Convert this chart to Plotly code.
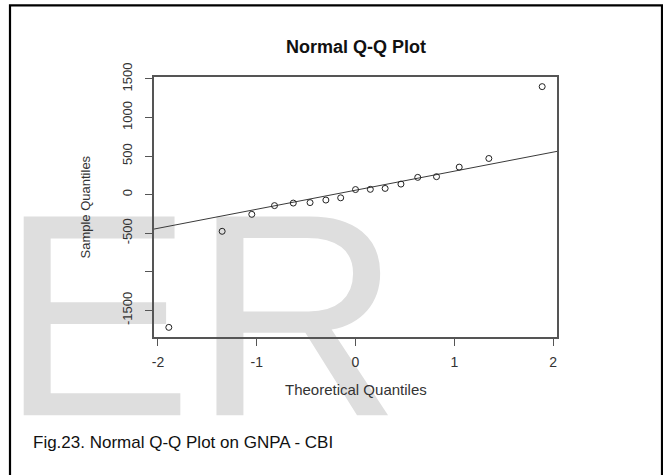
import numpy as np
import plotly.graph_objects as go

# ---- data ----
theoretical = [-1.89, -1.35, -1.05, -0.82, -0.63, -0.46, -0.30, -0.15, 0.0,
               0.15, 0.30, 0.46, 0.63, 0.82, 1.05, 1.35, 1.89]
sample = [-1720, -475, -255, -142, -109, -103, -70, -41, 66,
          69, 81, 137, 224, 233, 357, 469, 1400]
x_ticks = [-2, -1, 0, 1, 2]
y_ticks = [-1500, -1000, -500, 0, 500, 1000, 1500]
y_ticktext = ["-1500", "", "-500", "0", "500", "1000", "1500"]
title_text = "Normal Q-Q Plot"
x_title = "Theoretical Quantiles"
y_title = "Sample Quantiles"
caption = "Fig.23. Normal Q-Q Plot on GNPA - CBI"
watermark = "ER"

W, H = 663, 475
FONT = "Liberation Sans, Arial, sans-serif"

# qqline: through first and third quartiles (as R's qqline)
q_y = np.quantile(sample, [0.25, 0.75])
q_x = np.array([-0.6744898, 0.6744898])
slope = (q_y[1] - q_y[0]) / (q_x[1] - q_x[0])
intercept = q_y[0] - slope * q_x[0]
x_range = [-2.04, 2.04]
line_x = np.array(x_range)
line_y = intercept + slope * line_x

fig = go.Figure()

# watermark layer (full-page invisible axes, drawn beneath the data subplot)
fig.add_trace(go.Scatter(
    x=[0], y=[343], mode="text", text=[watermark], textposition="middle right",
    textfont=dict(family=FONT, size=289, color="#dedede"),
    xaxis="x", yaxis="y", hoverinfo="skip", showlegend=False, cliponaxis=False))

# qq line
fig.add_trace(go.Scatter(
    x=line_x, y=line_y, mode="lines", line=dict(color="#3a3a3a", width=1),
    xaxis="x2", yaxis="y2", hoverinfo="skip", showlegend=False, cliponaxis=True))

# points
fig.add_trace(go.Scatter(
    x=theoretical, y=sample, mode="markers",
    marker=dict(symbol="circle-open", size=6, color="#222", line=dict(width=1, color="#222")),
    xaxis="x2", yaxis="y2", showlegend=False, cliponaxis=False))

px_l, px_r, px_t, px_b = 154, 557, 77, 337

fig.update_layout(
    template="none",
    width=W, height=H, autosize=False,
    margin=dict(l=0, r=0, t=0, b=0, pad=0),
    paper_bgcolor="white", plot_bgcolor="rgba(0,0,0,0)",
    showlegend=False, hovermode=False,
    xaxis=dict(domain=[0, 1], range=[0, W], visible=False, fixedrange=True, automargin=False),
    yaxis=dict(domain=[0, 1], range=[H, 0], visible=False, fixedrange=True, automargin=False),
    xaxis2=dict(domain=[px_l / W, px_r / W], range=x_range, anchor="y2", automargin=False,
                showgrid=False, zeroline=False, showline=True, mirror=True,
                linecolor="#555", linewidth=1.5,
                ticks="outside", ticklen=7, tickwidth=1, tickcolor="#555",
                tickvals=x_ticks, ticktext=[str(v) for v in x_ticks],
                tickfont=dict(family=FONT, size=14, color="#333"),
                ticklabelstandoff=4),
    yaxis2=dict(domain=[1 - px_b / H, 1 - px_t / H], range=[-1845, 1525], anchor="x2",
                automargin=False,
                showgrid=False, zeroline=False, showline=True, mirror=True,
                linecolor="#555", linewidth=1.5,
                ticks="outside", ticklen=7, tickwidth=1, tickcolor="#555",
                tickvals=y_ticks, ticktext=y_ticktext, tickangle=-90,
                tickfont=dict(family=FONT, size=13, color="#333"),
                ticklabelstandoff=8),
    annotations=[
        dict(text="<b>" + title_text + "</b>", x=356 / W, y=1 - 47 / H, xref="paper", yref="paper",
             xanchor="center", yanchor="middle", showarrow=False,
             font=dict(family=FONT, size=18, color="#111")),
        dict(text=x_title, x=355.5 / W, y=1 - 389.5 / H, xref="paper", yref="paper",
             xanchor="center", yanchor="middle", showarrow=False,
             font=dict(family=FONT, size=15, color="#333")),
        dict(text=y_title, x=85 / W, y=1 - 206.5 / H, xref="paper", yref="paper",
             xanchor="center", yanchor="middle", showarrow=False, textangle=-90,
             font=dict(family=FONT, size=13, color="#333")),
        dict(text=caption, x=31 / W, y=1 - 442 / H, xref="paper", yref="paper",
             xanchor="left", yanchor="middle", showarrow=False,
             font=dict(family=FONT, size=17, color="#111")),
    ],
    shapes=[
        dict(type="rect", xref="paper", yref="paper",
             x0=10 / W, x1=662 / W, y0=-0.05, y1=1 - 5.3 / H,
             line=dict(color="black", width=2.2), fillcolor="rgba(0,0,0,0)", layer="above"),
    ],
)

fig.write_html("out.html")
